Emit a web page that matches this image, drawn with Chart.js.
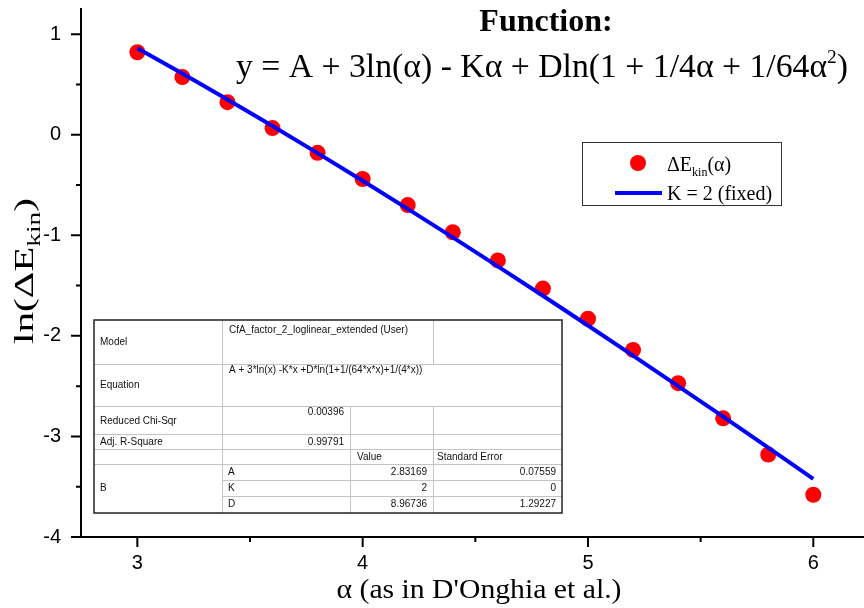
<!DOCTYPE html>
<html><head><meta charset="utf-8">
<script src="https://cdn.jsdelivr.net/npm/chart.js@4/dist/chart.umd.min.js"></script>
<style>html,body{margin:0;padding:0;background:#fff;overflow:hidden}#wrap{width:864px;height:608px;position:relative}</style>
</head><body><div id="wrap"><canvas id="c" width="864" height="608"></canvas></div>
<script>
// ---- data ----
const alphaValues = [3.0,3.2,3.4,3.6,3.8,4.0,4.2,4.4,4.6,4.8,5.0,5.2,5.4,5.6,5.8,6.0];
const lnDeltaEkin = [0.82,0.573,0.324,0.066,-0.18,-0.44,-0.70,-0.97,-1.25,-1.53,-1.83,-2.14,-2.47,-2.82,-3.18,-3.58];
const fitAlpha = [3.0,3.2,3.4,3.6,3.8,4.0,4.2,4.4,4.6,4.8,5.0,5.2,5.4,5.6,5.8,6.0];
const fitK2 = [0.860,0.608,0.351,0.087,-0.183,-0.458,-0.737,-1.021,-1.309,-1.601,-1.897,-2.196,-2.499,-2.804,-3.112,-3.423];
const xTickValues = [3,4,5,6];
const xMinorTicks = [3.5,4.5,5.5];
const yTickValues = [1,0,-1,-2,-3,-4];
const yMinorTicks = [0.5,-0.5,-1.5,-2.5,-3.5];
const tableModel = "CfA_factor_2_loglinear_extended (User)";
const tableEquation = "A + 3*ln(x) -K*x +D*ln(1+1/(64*x*x)+1/(4*x))";
const tableChiSqr = "0.00396";
const tableAdjR2 = "0.99791";
const paramNames = ["A","K","D"];
const paramValues = ["2.83169","2","8.96736"];
const paramErrors = ["0.07559","0","1.29227"];

const SERIF = '"Liberation Serif","Times New Roman",serif';
const SANS = '"Liberation Sans",Arial,sans-serif';
const NARROW = '"Liberation Sans Narrow","Liberation Sans",Arial,sans-serif';

function segFont(s){ return (s.bold?'bold ':'') + s.size + 'px ' + SERIF; }
function fitSegs(ctx, segs, x, y, target, align){
  let w = 0;
  segs.forEach(s => { ctx.font = segFont(s); s.w = ctx.measureText(s.t).width; w += s.w; });
  const sc = target ? target / w : 1;
  ctx.save();
  ctx.translate(x, y);
  ctx.scale(sc, 1);
  let cx = align === 'center' ? -w/2 : 0;
  ctx.textAlign = 'left';
  ctx.textBaseline = 'alphabetic';
  segs.forEach(s => { ctx.font = segFont(s); ctx.fillText(s.t, cx, s.dy || 0); cx += s.w; });
  ctx.restore();
}

const deco = {
  id: 'deco',
  afterDraw(chart){
    const ctx = chart.ctx, xs = chart.scales.x, ys = chart.scales.y, ca = chart.chartArea;
    ctx.save();
    ctx.fillStyle = '#000'; ctx.strokeStyle = '#000';
    // axes
    ctx.lineWidth = 2;
    ctx.beginPath();
    ctx.moveTo(ca.left, ca.top); ctx.lineTo(ca.left, ca.bottom);
    ctx.moveTo(ca.left - 1, ca.bottom); ctx.lineTo(ca.right, ca.bottom);
    ctx.stroke();
    // ticks
    ctx.beginPath();
    xTickValues.forEach(v => { const p = xs.getPixelForValue(v); ctx.moveTo(p, ca.bottom); ctx.lineTo(p, ca.bottom + 10); });
    xMinorTicks.forEach(v => { const p = xs.getPixelForValue(v); ctx.moveTo(p, ca.bottom); ctx.lineTo(p, ca.bottom + 5); });
    yTickValues.forEach(v => { const p = ys.getPixelForValue(v); ctx.moveTo(ca.left, p); ctx.lineTo(ca.left - 10, p); });
    yMinorTicks.forEach(v => { const p = ys.getPixelForValue(v); ctx.moveTo(ca.left, p); ctx.lineTo(ca.left - 5, p); });
    ctx.stroke();
    // tick labels
    ctx.font = '20px ' + NARROW;
    ctx.textBaseline = 'middle';
    ctx.textAlign = 'center';
    xTickValues.forEach(v => ctx.fillText(String(v), xs.getPixelForValue(v), ca.bottom + 26));
    ctx.textAlign = 'right';
    yTickValues.forEach(v => ctx.fillText(String(v), ca.left - 20, ys.getPixelForValue(v)));

    // x axis title
    fitSegs(ctx, [{t:'\u03B1 (as in D\'Onghia et al.)', size:27}], 479, 598, 285, 'center');
    // y axis title
    ctx.save();
    ctx.translate(33, 271);
    ctx.rotate(-Math.PI/2);
    fitSegs(ctx, [{t:'ln(\u0394E', size:27},{t:'kin', size:18, dy:7},{t:')', size:27}], 0, 0, 146, 'center');
    ctx.restore();

    // title
    ctx.textAlign = 'center'; ctx.textBaseline = 'alphabetic';
    ctx.font = 'bold 32px ' + SERIF;
    ctx.fillText('Function:', 546, 31);
    fitSegs(ctx, [{t:'y = A + 3ln(\u03B1) - K\u03B1 + Dln(1 + 1/4\u03B1 + 1/64\u03B1', size:33},{t:'2', size:19, dy:-14},{t:')', size:33}], 236, 77, 612, 'left');

    // legend
    ctx.fillStyle = '#fff';
    ctx.fillRect(582, 142, 200, 64);
    ctx.strokeStyle = '#333'; ctx.lineWidth = 1;
    ctx.strokeRect(582.5, 142.5, 199, 63);
    ctx.fillStyle = '#ff0000';
    ctx.beginPath(); ctx.arc(638, 163, 8, 0, Math.PI*2); ctx.fill();
    ctx.strokeStyle = '#0000ff'; ctx.lineWidth = 4;
    ctx.beginPath(); ctx.moveTo(615, 193); ctx.lineTo(662, 193); ctx.stroke();
    ctx.fillStyle = '#000';
    fitSegs(ctx, [{t:'\u0394E', size:20},{t:'kin', size:12, dy:5},{t:'(\u03B1)', size:20}], 667, 171, 0, 'left');
    fitSegs(ctx, [{t:'K = 2 (fixed)', size:20}], 667, 200, 0, 'left');

    // table
    const c0=94,c1=222,c2=350,c3=433,c4=562;
    const r=[320,364,406,434,449,464,480,496,513];
    ctx.fillStyle = '#fff';
    ctx.fillRect(c0, r[0], c4-c0, r[8]-r[0]);
    ctx.strokeStyle = '#c4c4c4'; ctx.lineWidth = 1;
    ctx.beginPath();
    [1,2,3,4,5].forEach(i => { ctx.moveTo(c0, r[i]+0.5); ctx.lineTo(c4, r[i]+0.5); });
    [6,7].forEach(i => { ctx.moveTo(c1, r[i]+0.5); ctx.lineTo(c4, r[i]+0.5); });
    ctx.moveTo(c1+0.5, r[0]); ctx.lineTo(c1+0.5, r[8]);
    ctx.moveTo(c2+0.5, r[2]); ctx.lineTo(c2+0.5, r[8]);
    ctx.moveTo(c3+0.5, r[0]); ctx.lineTo(c3+0.5, r[1]);
    ctx.moveTo(c3+0.5, r[2]); ctx.lineTo(c3+0.5, r[8]);
    ctx.stroke();
    ctx.strokeStyle = '#222'; ctx.lineWidth = 1.5;
    ctx.strokeRect(c0, r[0], c4-c0, r[8]-r[0]);
    ctx.fillStyle = '#111';
    ctx.font = '10px ' + SANS;
    ctx.textBaseline = 'middle';
    ctx.textAlign = 'left';
    ctx.fillText('Model', 100, 342);
    ctx.fillText(tableModel, 229, 330);
    ctx.fillText('Equation', 100, 385);
    ctx.fillText(tableEquation, 229, 370);
    ctx.fillText('Reduced Chi-Sqr', 100, 421);
    ctx.fillText('Adj. R-Square', 100, 442);
    ctx.fillText('Value', 357, 457);
    ctx.fillText('Standard Error', 437, 457);
    ctx.fillText('B', 100, 488);
    paramNames.forEach((n,i) => ctx.fillText(n, 228, 472 + 16*i));
    ctx.textAlign = 'right';
    ctx.fillText(tableChiSqr, 344, 412);
    ctx.fillText(tableAdjR2, 344, 442);
    paramValues.forEach((v,i) => ctx.fillText(v, 427, 472 + 16*i));
    paramErrors.forEach((v,i) => ctx.fillText(v, 556, 472 + 16*i));
    ctx.restore();
  }
};

new Chart(document.getElementById('c'), {
  type: 'scatter',
  data: {
    datasets: [
      { label: 'K = 2 (fixed)', data: fitAlpha.map((x,i) => ({x, y: fitK2[i]})), showLine: true, pointRadius: 0,
        borderColor: '#0000ff', borderWidth: 4, backgroundColor: '#0000ff', tension: 0, order: 0 },
      { label: '\u0394Ekin(\u03B1)', data: alphaValues.map((x,i) => ({x, y: lnDeltaEkin[i]})), pointRadius: 8,
        pointBackgroundColor: '#ff0000', pointBorderWidth: 0, backgroundColor: '#ff0000', borderColor: '#ff0000', order: 1 }
    ]
  },
  options: {
    responsive: false, animation: false, devicePixelRatio: 1,
    layout: { autoPadding: false, padding: { top: 8, left: 0, right: 0, bottom: 0 } },
    plugins: { legend: { display: false }, tooltip: { enabled: false } },
    scales: {
      x: { type: 'linear', min: 2.75, max: 6.225, ticks: { display: false }, grid: { display: false, drawTicks: false }, border: { display: false },
           afterFit: s => { s.height = 71; } },
      y: { type: 'linear', min: -4, max: 1.26, ticks: { display: false }, grid: { display: false, drawTicks: false }, border: { display: false },
           afterFit: s => { s.width = 81; } }
    }
  },
  plugins: [deco]
});
</script>
</body></html>
